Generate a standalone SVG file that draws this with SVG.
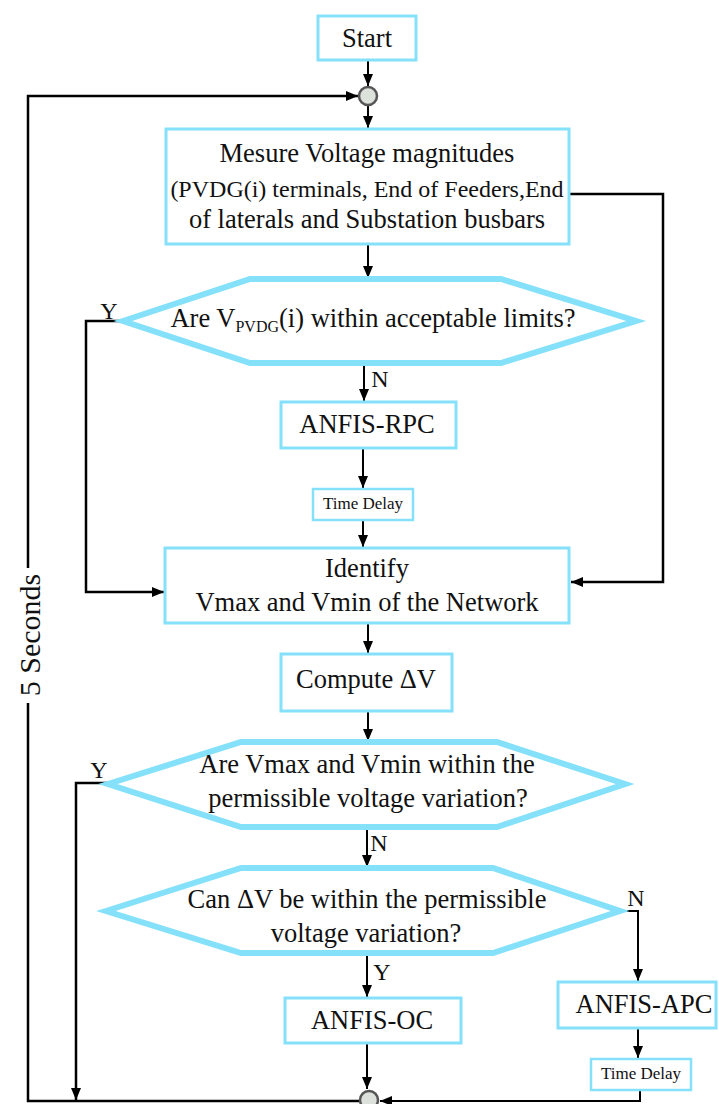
<svg xmlns="http://www.w3.org/2000/svg" width="719" height="1104" viewBox="0 0 719 1104">
<style>
.box{fill:#fff;stroke:#84e1f9;stroke-width:3}
.hex{fill:#fff;stroke:#84e1f9;stroke-width:6;stroke-linejoin:miter}
.t{font-family:"Liberation Serif","Times New Roman",serif;font-size:26.5px;fill:#111;text-anchor:middle}
.s{font-size:17px}
.lbl{font-family:"Liberation Serif","Times New Roman",serif;font-size:24px;fill:#111;text-anchor:middle}
.c{fill:none;stroke:#000;stroke-width:2}
.loop{fill:none;stroke:#000;stroke-width:2.5}
.jn{fill:#dde1dc;stroke:#555;stroke-width:2.5}
</style>
<defs>
<marker id="arr" markerUnits="userSpaceOnUse" markerWidth="13" markerHeight="10" refX="12" refY="5" orient="auto">
<path d="M0,0 L12,5 L0,10 z" fill="#000"/>
</marker>
</defs>
<rect width="719" height="1104" fill="#fff"/>

<g id="connectors">
<path class="c" d="M368,60 V86" marker-end="url(#arr)"/>
<path class="c" d="M368,105 V128" marker-end="url(#arr)"/>
<path class="c" d="M368,245 V278" marker-end="url(#arr)"/>
<path class="c" d="M364,363 V401" marker-end="url(#arr)"/>
<path class="c" d="M363,448 V488" marker-end="url(#arr)"/>
<path class="c" d="M363,520 V547" marker-end="url(#arr)"/>
<path class="c" d="M368,623 V653" marker-end="url(#arr)"/>
<path class="c" d="M368,711 V741" marker-end="url(#arr)"/>
<path class="c" d="M367,827 V867" marker-end="url(#arr)"/>
<path class="c" d="M367,953 V997" marker-end="url(#arr)"/>
<path class="c" d="M367,1043 V1089" marker-end="url(#arr)"/>
<path class="c" d="M620,911 H638 V981" marker-end="url(#arr)"/>
<path class="c" d="M638,1028 V1058" marker-end="url(#arr)"/>
<path class="c" d="M640,1090 V1101 H380" marker-end="url(#arr)"/>
<path class="loop" d="M108,783 H76 V1100" marker-end="url(#arr)"/>
<path class="loop" d="M123,321 H86 V592 H164" marker-end="url(#arr)"/>
<path class="loop" d="M570,194 H663 V582 H571" marker-end="url(#arr)"/>
<path class="loop" d="M359,1101 H28 V703 M28,568 V96 H358" marker-end="url(#arr)"/>
</g>

<g id="start">
<rect class="box" x="318" y="16" width="98" height="44"/>
<text class="t" x="367" y="47">Start</text>
</g>
<g id="junction-top"><circle class="jn" cx="368" cy="96" r="9"/></g>

<g id="measure">
<rect class="box" x="166" y="129" width="403" height="115"/>
<text class="t" x="367" y="162">Mesure Voltage magnitudes</text>
<text class="t" x="367" y="197" style="font-size:24px">(PVDG(i) terminals, End of Feeders,End</text>
<text class="t" x="367" y="228">of laterals and Substation busbars</text>
</g>

<g id="check-pvdg">
<polygon class="hex" points="123,321 250,279 501,279 636,321 501,363 250,363"/>
<text class="t" x="373" y="327">Are V<tspan style="font-size:16px" dy="5">PVDG</tspan><tspan dy="-5">(i) within acceptable limits?</tspan></text>
<text class="lbl" x="109" y="319">Y</text>
<text class="lbl" x="380" y="387">N</text>
</g>

<g id="anfis-rpc">
<rect class="box" x="281" y="402" width="175" height="46"/>
<text class="t" x="367" y="433">ANFIS-RPC</text>
</g>

<g id="time-delay-1">
<rect class="box" x="313" y="489" width="100" height="31" style="stroke-width:2.5"/>
<text class="t s" x="363" y="509">Time Delay</text>
</g>

<g id="identify">
<rect class="box" x="165" y="548" width="404" height="75"/>
<text class="t" x="367" y="577">Identify</text>
<text class="t" x="367" y="611">Vmax and Vmin of the Network</text>
</g>

<g id="compute">
<rect class="box" x="281" y="654" width="171" height="57"/>
<text class="t" x="366" y="688">Compute ΔV</text>
</g>

<g id="check-variation">
<polygon class="hex" points="108,784 241,742 497,742 625,784 497,827 241,827"/>
<text class="t" x="367" y="773">Are Vmax and Vmin within the</text>
<text class="t" x="368" y="807">permissible voltage variation?</text>
<text class="lbl" x="99" y="778">Y</text>
<text class="lbl" x="379" y="851">N</text>
</g>

<g id="check-dv">
<polygon class="hex" points="106,911 241,868 493,868 620,911 493,953 241,953"/>
<text class="t" x="367" y="908">Can ΔV be within the permissible</text>
<text class="t" x="366" y="942">voltage variation?</text>
<text class="lbl" x="636" y="906">N</text>
<text class="lbl" x="382" y="980">Y</text>
</g>

<g id="anfis-oc">
<rect class="box" x="285" y="998" width="176" height="45"/>
<text class="t" x="372" y="1029">ANFIS-OC</text>
</g>

<g id="anfis-apc">
<rect class="box" x="558" y="982" width="158" height="46"/>
<text class="t" x="644" y="1013">ANFIS-APC</text>
</g>

<g id="time-delay-2">
<rect class="box" x="591" y="1059" width="100" height="31" style="stroke-width:2.5"/>
<text class="t s" x="641" y="1079">Time Delay</text>
</g>

<g id="junction-bottom"><circle class="jn" cx="369" cy="1100" r="9"/></g>

<g id="loop-label">
<text class="t" x="0" y="0" style="font-size:30px" transform="translate(40,635) rotate(-90)">5 Seconds</text>
</g>
</svg>
